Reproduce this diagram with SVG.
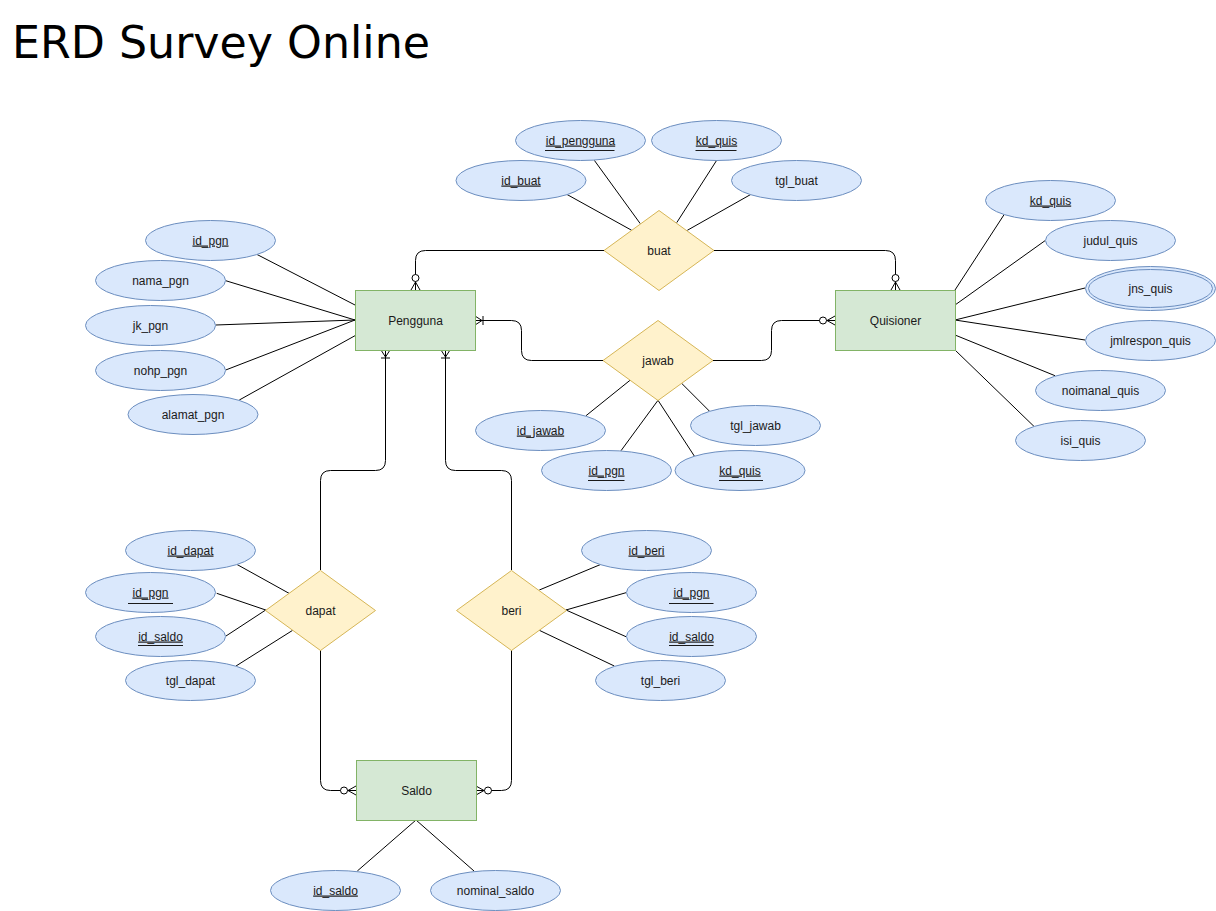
<svg xmlns="http://www.w3.org/2000/svg" width="1216" height="911" viewBox="0 0 1216 911">
<style>
text{font-family:"Liberation Sans",Arial,sans-serif;font-size:12px;fill:#1a1a1a;text-anchor:middle}
.t{font-family:"Comic Sans MS","DejaVu Sans",sans-serif;font-size:44px;fill:#000;text-anchor:start}
.u{text-decoration:underline}
.at{fill:#dae8fc;stroke:#6c8ebf;stroke-width:1}
.rel{fill:#fff2cc;stroke:#d6b656;stroke-width:1}
.ent{fill:#d5e8d4;stroke:#82b366;stroke-width:1}
.ln{stroke:#000;stroke-width:1;fill:none}
.ul{stroke:#1a1a1a;stroke-width:1}
.cn{stroke:#000;stroke-width:1;fill:none}
.zm{marker-end:url(#zm)}
.om{marker-end:url(#om)}
</style>
<defs>
<marker id="zm" markerUnits="userSpaceOnUse" orient="auto" refX="0" refY="0" viewBox="-20 -10 25 20" markerWidth="25" markerHeight="20" overflow="visible">
<path d="M0,-4.5 L-8,0 L0,4.5 M-8,0 L0,0" fill="none" stroke="#000" stroke-width="1"/>
<circle cx="-12" cy="0" r="3.5" fill="#fff" stroke="#000" stroke-width="1"/>
</marker>
<marker id="om" markerUnits="userSpaceOnUse" orient="auto" refX="0" refY="0" viewBox="-20 -10 25 20" markerWidth="25" markerHeight="20" overflow="visible">
<path d="M0,-4.5 L-7,0 L0,4.5 M-8,-4.5 L-8,4.5" fill="none" stroke="#000" stroke-width="1"/>
</marker>
</defs>
<rect width="1216" height="911" fill="#fff"/>
<text class="t" x="12" y="58" textLength="418" lengthAdjust="spacingAndGlyphs">ERD Survey Online</text>

<g id="connectors">
<path class="cn zm" d="M604,250.5 H425.5 Q415.5,250.5 415.5,260.5 V290"/>
<path class="cn zm" d="M714,250.5 H885.5 Q895.5,250.5 895.5,260.5 V290"/>
<path class="cn om" d="M603,360.5 H531.5 Q521.5,360.5 521.5,350.5 V330.5 Q521.5,320.5 511.5,320.5 H475"/>
<path class="cn zm" d="M713,360.5 H761.5 Q771.5,360.5 771.5,350.5 V330.5 Q771.5,320.5 781.5,320.5 H835"/>
<path class="cn om" d="M320.5,570 V480.5 Q320.5,470.5 330.5,470.5 H375.5 Q385.5,470.5 385.5,460.5 V350"/>
<path class="cn om" d="M511.5,570 V480.5 Q511.5,470.5 501.5,470.5 H455.5 Q445.5,470.5 445.5,460.5 V350"/>
<path class="cn zm" d="M320.5,650 V780.5 Q320.5,790.5 330.5,790.5 H356"/>
<path class="cn zm" d="M511.5,650 V780.5 Q511.5,790.5 501.5,790.5 H476"/>
<!-- attribute links -->
<line class="ln" x1="256.7" y1="254.3" x2="355" y2="305"/>
<line class="ln" x1="225.7" y1="280.7" x2="355" y2="320"/>
<line class="ln" x1="215.7" y1="325" x2="355" y2="320"/>
<line class="ln" x1="225.7" y1="370" x2="355" y2="320"/>
<line class="ln" x1="239.3" y1="400" x2="355" y2="335.7"/>
<line class="ln" x1="1004.3" y1="214.3" x2="955" y2="290"/>
<line class="ln" x1="1045" y1="240.7" x2="955" y2="305"/>
<line class="ln" x1="1085" y1="288" x2="955" y2="320"/>
<line class="ln" x1="1085" y1="340" x2="955" y2="320"/>
<line class="ln" x1="1055" y1="375.7" x2="955" y2="335"/>
<line class="ln" x1="1034.3" y1="426.7" x2="955" y2="350"/>
<line class="ln" x1="566.7" y1="194.3" x2="631.7" y2="230.3"/>
<line class="ln" x1="594.3" y1="160.3" x2="640.3" y2="223.7"/>
<line class="ln" x1="716.7" y1="160.3" x2="676.7" y2="222.7"/>
<line class="ln" x1="751" y1="194.3" x2="687.3" y2="230.3"/>
<line class="ln" x1="586" y1="415.7" x2="630" y2="380.3"/>
<line class="ln" x1="621" y1="450.7" x2="658" y2="400.3"/>
<line class="ln" x1="694.3" y1="456" x2="658" y2="400.3"/>
<line class="ln" x1="709.3" y1="411" x2="681" y2="382.7"/>
<line class="ln" x1="236.7" y1="564.3" x2="289" y2="593.3"/>
<line class="ln" x1="216.7" y1="593.3" x2="265.7" y2="610"/>
<line class="ln" x1="226" y1="636" x2="265.7" y2="610"/>
<line class="ln" x1="236" y1="666" x2="292.7" y2="630.3"/>
<line class="ln" x1="601" y1="564.3" x2="539.3" y2="590"/>
<line class="ln" x1="626" y1="592.7" x2="566" y2="610"/>
<line class="ln" x1="626" y1="636.7" x2="566" y2="610"/>
<line class="ln" x1="614.3" y1="666" x2="539.3" y2="630.3"/>
<line class="ln" x1="416" y1="820" x2="357.3" y2="871"/>
<line class="ln" x1="416" y1="820" x2="474" y2="871"/>
</g>

<g id="pengguna"><rect class="ent" x="355.5" y="290.5" width="120" height="60"/><text x="415.5" y="324.5">Pengguna</text></g>
<g id="quisioner"><rect class="ent" x="835.5" y="290.5" width="120" height="60"/><text x="895.5" y="324.5">Quisioner</text></g>
<g id="saldo"><rect class="ent" x="356.5" y="760.5" width="120" height="60"/><text x="416.5" y="794.5">Saldo</text></g>

<g id="buat"><path class="rel" d="M659,210.5 L714,250.5 L659,290.5 L604,250.5 Z"/><text x="659" y="254.5">buat</text></g>
<g id="jawab"><path class="rel" d="M658,320.5 L713,360.5 L658,400.5 L603,360.5 Z"/><text x="658" y="364.5">jawab</text></g>
<g id="dapat"><path class="rel" d="M320.5,570.5 L375.5,610.5 L320.5,650.5 L265.5,610.5 Z"/><text x="320.5" y="614.5">dapat</text></g>
<g id="beri"><path class="rel" d="M511.5,570.5 L566.5,610.5 L511.5,650.5 L456.5,610.5 Z"/><text x="511.5" y="614.5">beri</text></g>

<g id="a_id_pgn"><ellipse class="at" cx="210.5" cy="240.5" rx="65" ry="20"/><text class="u" x="210.5" y="244.5">id_pgn</text></g>
<g id="a_nama_pgn"><ellipse class="at" cx="160.5" cy="280.5" rx="65" ry="20"/><text x="160.5" y="284.5">nama_pgn</text></g>
<g id="a_jk_pgn"><ellipse class="at" cx="150.5" cy="325.5" rx="65" ry="20"/><text x="150.5" y="329.5">jk_pgn</text></g>
<g id="a_nohp_pgn"><ellipse class="at" cx="160.5" cy="370.5" rx="65" ry="20"/><text x="160.5" y="374.5">nohp_pgn</text></g>
<g id="a_alamat_pgn"><ellipse class="at" cx="193" cy="414.5" rx="65" ry="20"/><text x="193" y="418.5">alamat_pgn</text></g>

<g id="a_id_buat"><ellipse class="at" cx="521" cy="180.5" rx="65" ry="20"/><text class="u" x="521" y="184.5">id_buat</text></g>
<g id="a_id_pengguna"><ellipse class="at" cx="580.5" cy="140.5" rx="65" ry="20"/><text class="u" x="580.5" y="144.5">id_pengguna</text><line class="ul" x1="545" y1="150.5" x2="614.5" y2="150.5"/></g>
<g id="a_kd_quis_buat"><ellipse class="at" cx="716.5" cy="140.5" rx="65" ry="20"/><text class="u" x="716.5" y="144.5">kd_quis</text><line class="ul" x1="695.5" y1="150.5" x2="736.5" y2="150.5"/></g>
<g id="a_tgl_buat"><ellipse class="at" cx="796.5" cy="180.5" rx="65" ry="20"/><text x="796.5" y="184.5">tgl_buat</text></g>

<g id="a_kd_quis"><ellipse class="at" cx="1050.5" cy="200.5" rx="65" ry="20"/><text class="u" x="1050.5" y="204.5">kd_quis</text></g>
<g id="a_judul_quis"><ellipse class="at" cx="1110.5" cy="240.5" rx="65" ry="20"/><text x="1110.5" y="244.5">judul_quis</text></g>
<g id="a_jns_quis"><ellipse class="at" cx="1150.5" cy="288.5" rx="65" ry="22"/><ellipse class="at" cx="1150.5" cy="288.5" rx="62" ry="19"/><text x="1150.5" y="292.5">jns_quis</text></g>
<g id="a_jmlrespon_quis"><ellipse class="at" cx="1150.5" cy="340.5" rx="65" ry="20"/><text x="1150.5" y="344.5">jmlrespon_quis</text></g>
<g id="a_noimanal_quis"><ellipse class="at" cx="1100.5" cy="390.5" rx="65" ry="20"/><text x="1100.5" y="394.5">noimanal_quis</text></g>
<g id="a_isi_quis"><ellipse class="at" cx="1080.5" cy="440.5" rx="65" ry="20"/><text x="1080.5" y="444.5">isi_quis</text></g>

<g id="a_id_jawab"><ellipse class="at" cx="540.5" cy="430.5" rx="65" ry="20"/><text class="u" x="540.5" y="434.5">id_jawab</text></g>
<g id="a_tgl_jawab"><ellipse class="at" cx="755.5" cy="425.5" rx="65" ry="20"/><text x="755.5" y="429.5">tgl_jawab</text></g>
<g id="a_id_pgn_jawab"><ellipse class="at" cx="606.5" cy="470.5" rx="65" ry="20"/><text class="u" x="606.5" y="474.5">id_pgn</text><line class="ul" x1="588" y1="480.5" x2="624.5" y2="480.5"/></g>
<g id="a_kd_quis_jawab"><ellipse class="at" cx="740" cy="470.5" rx="65" ry="20"/><text class="u" x="740" y="474.5">kd_quis</text><line class="ul" x1="719" y1="480.5" x2="763" y2="480.5"/></g>

<g id="a_id_dapat"><ellipse class="at" cx="190.5" cy="550.5" rx="65" ry="20"/><text class="u" x="190.5" y="554.5">id_dapat</text></g>
<g id="a_id_pgn_dapat"><ellipse class="at" cx="150.5" cy="592.5" rx="65" ry="20"/><text class="u" x="150.5" y="596.5">id_pgn</text><line class="ul" x1="128" y1="603.5" x2="173" y2="603.5"/></g>
<g id="a_id_saldo_dapat"><ellipse class="at" cx="160.5" cy="636.5" rx="65" ry="20"/><text class="u" x="160.5" y="640.5">id_saldo</text><line class="ul" x1="138" y1="645.5" x2="183" y2="645.5"/></g>
<g id="a_tgl_dapat"><ellipse class="at" cx="190.5" cy="680.5" rx="65" ry="20"/><text x="190.5" y="684.5">tgl_dapat</text></g>

<g id="a_id_beri"><ellipse class="at" cx="646.5" cy="550.5" rx="65" ry="20"/><text class="u" x="646.5" y="554.5">id_beri</text></g>
<g id="a_id_pgn_beri"><ellipse class="at" cx="691.5" cy="592.5" rx="65" ry="20"/><text class="u" x="691.5" y="596.5">id_pgn</text><line class="ul" x1="669" y1="603.5" x2="713.5" y2="603.5"/></g>
<g id="a_id_saldo_beri"><ellipse class="at" cx="691.5" cy="636.5" rx="65" ry="20"/><text class="u" x="691.5" y="640.5">id_saldo</text><line class="ul" x1="669" y1="645.5" x2="713.5" y2="645.5"/></g>
<g id="a_tgl_beri"><ellipse class="at" cx="660.5" cy="680.5" rx="65" ry="20"/><text x="660.5" y="684.5">tgl_beri</text></g>

<g id="a_id_saldo"><ellipse class="at" cx="335.5" cy="890.5" rx="65" ry="20"/><text class="u" x="335.5" y="894.5">id_saldo</text></g>
<g id="a_nominal_saldo"><ellipse class="at" cx="495.5" cy="890.5" rx="65" ry="20"/><text x="495.5" y="894.5">nominal_saldo</text></g>
</svg>
